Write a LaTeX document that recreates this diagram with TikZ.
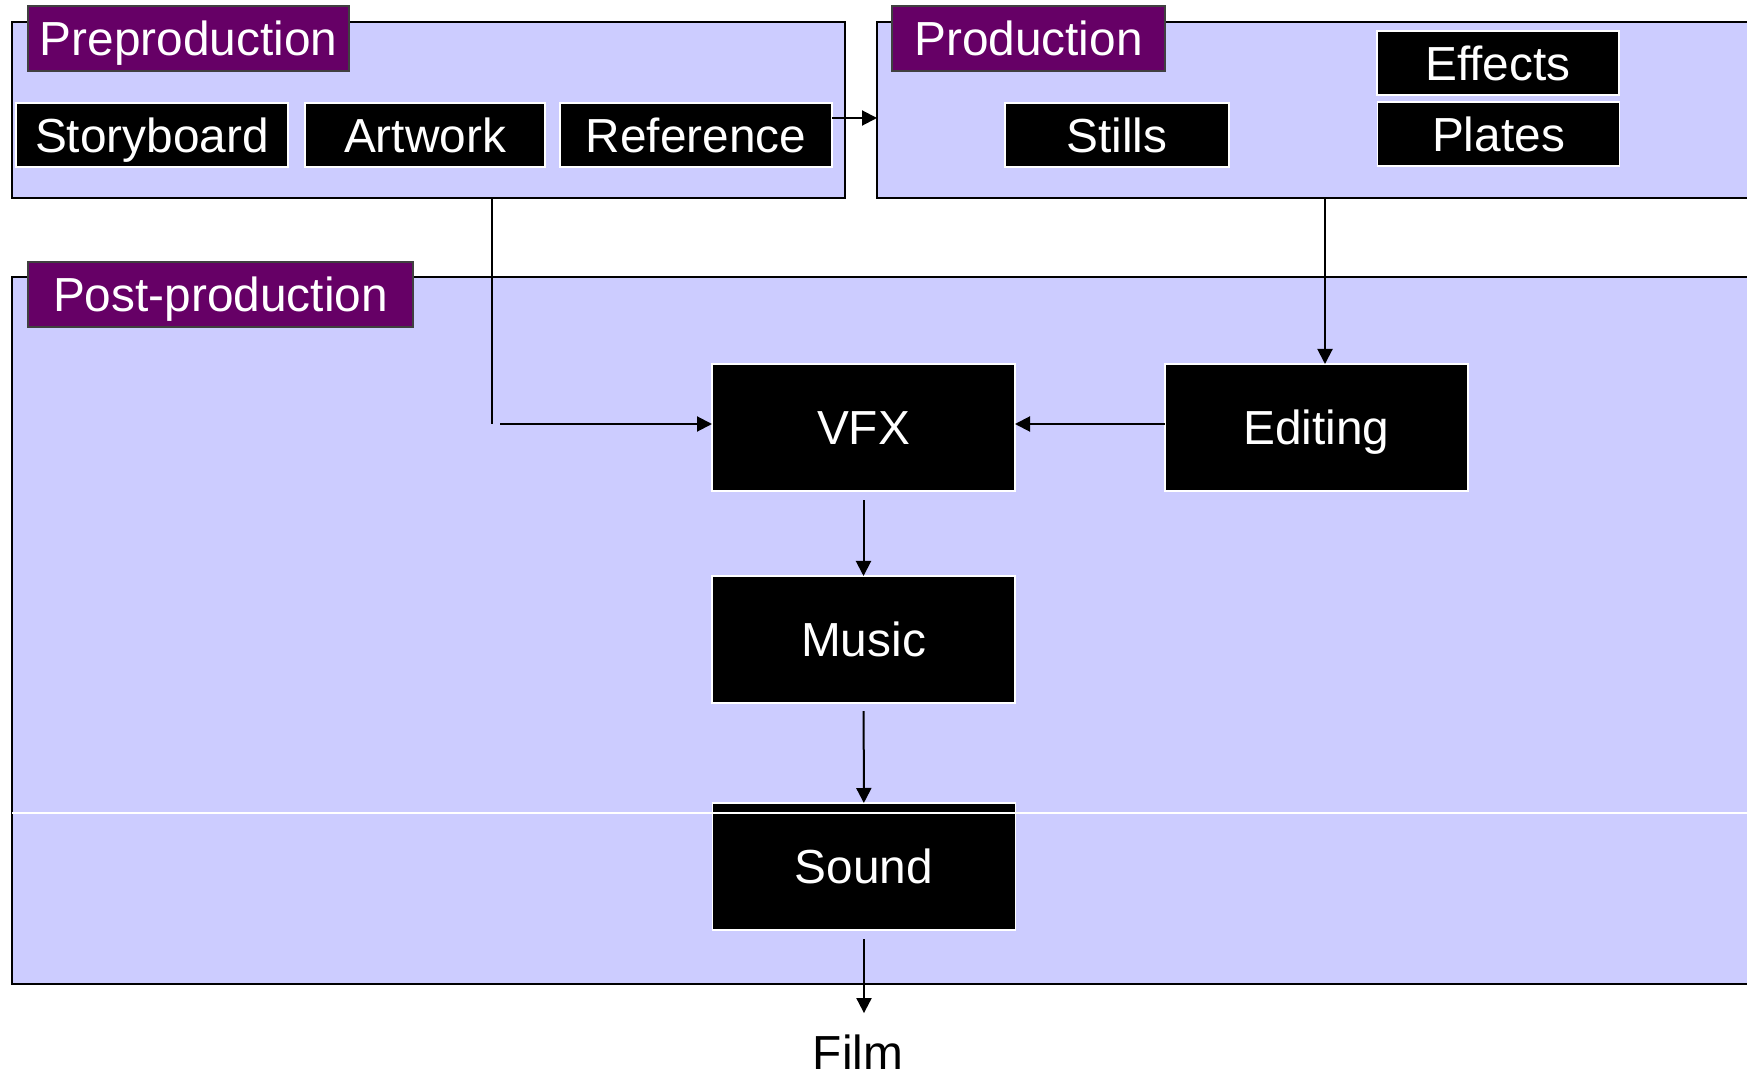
\documentclass[tikz,border=0pt]{standalone}
\usepackage{fontspec}
\setmainfont{Liberation Sans}
\usetikzlibrary{arrows.meta,calc,positioning}
\definecolor{stagefill}{HTML}{CCCCFF}
\definecolor{labelfill}{HTML}{660066}

\begin{document}
\begin{tikzpicture}[
		x=0.25mm, y=-0.25mm,
		stage/.style={draw=black, fill=stagefill, line width=0.5mm, inner sep=0pt, outer sep=0pt},
		stagelabel/.style={draw=black!75, fill=labelfill, text=white, line width=0.4mm, minimum height=16.25mm, inner sep=0pt, text height=24.8pt, text depth=0pt, font=\fontsize{34}{40}\selectfont},
		task/.style={draw=white, fill=black, text=white, line width=0.35mm, minimum height=16mm, inner sep=0pt, outer sep=0pt, text height=24.8pt, text depth=0pt, font=\fontsize{34}{40}\selectfont},
		bigtask/.style={task, minimum width=75.75mm, minimum height=31.75mm},
		flow/.style={draw, line width=0.5mm, -{Triangle[length=3.75mm,width=3.75mm]}}
		]
		\useasboundingbox (0,0) rectangle (1747,1076);
		
		% Les cadres
		\node[stage, minimum width=208.25mm, minimum height=44mm] (pre) at (428.5,110) {};
		\node[stage, minimum width=220.75mm, minimum height=44mm] (pro) at (1318.5,110) {};
		\node[stage, minimum width=437mm, minimum height=176.75mm] (post) at (886,630.5) {};
		
		% Les titres
		\node[stagelabel, minimum width=80.25mm] (prelabel) at (188.5,38.5) {Preproduction};
		\node[stagelabel, minimum width=68.25mm] (prolabel) at (1028.5,38.5) {Production};
		\node[stagelabel, minimum width=96.25mm] (postlabel) at (220.5,294.5) {Post-production};
		
		% Les taches
		\node[task, minimum width=68mm] (story) at (152,135) {Storyboard};
		\node[task, minimum width=60mm] (art) at (425,135) {Artwork};
		\node[task, minimum width=68mm] (ref) at (696,135) {Reference};
		\node[task, minimum width=56mm] (stills) at (1117,135) {Stills};
		\node[task, minimum width=60.5mm] (effects) at (1498,63) {Effects};
		\node[task, minimum width=60.5mm] (plates) at (1498.5,134) {Plates};
		\node[bigtask] (vfx) at (863.5,427.5) {VFX};
		\node[bigtask] (editing) at (1316.5,427.5) {Editing};
		\node[bigtask] (music) at (863.5,639.5) {Music};
		\node[bigtask] (sound) at (864,866.5) {Sound};
		\node[inner sep=0pt, anchor=base, font=\fontsize{34}{40}\selectfont] (film) at (858,1069) {Film};
		
		% Les fleches
		\coordinate (handoff) at (877,118);
		\coordinate (feed) at (492,424);
		\draw[flow] (ref.east |- handoff) -- (handoff);
		\draw[line width=0.6mm] (pre.south -| feed) -- (feed);
		\draw[flow] ([xshift=2mm]feed) -- (feed -| vfx.west);
		\draw[flow] (pro.south -| 1325,0) -- (editing.north -| 1325,0);
		\draw[flow] (editing.west |- feed) -- (vfx.east |- feed);
		\draw[flow, shorten <=2.25mm] (vfx) -- (music);
		\draw[flow, shorten <=2mm] (music) -- (sound);
		\draw[flow, shorten <=2.25mm, shorten >=5.25mm] (sound.south) -- (sound.south |- film.north);
		
		% La ligne blanche
		\draw[white, line width=0.3mm] (post.west |- 0,813) -- (post.east |- 0,813);
	\end{tikzpicture}
\end{document}
